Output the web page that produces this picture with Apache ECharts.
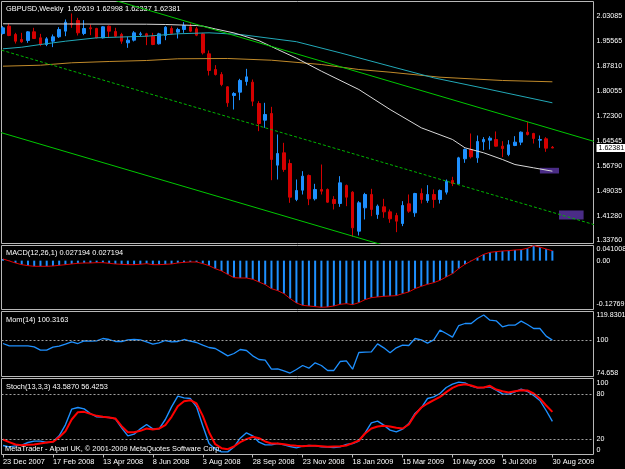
<!DOCTYPE html>
<html><head><meta charset="utf-8">
<script src="https://cdn.jsdelivr.net/npm/echarts@6/dist/echarts.min.js"></script>
<style>html,body{margin:0;padding:0;background:#000;}#c{width:625px;height:469px;}</style>
</head><body><div id="c"></div>
<script>
// ---------- data ----------
const symbolName = 'GBPUSD,Weekly';
const dateLabels = ['23 Dec 2007','17 Feb 2008','13 Apr 2008','8 Jun 2008','3 Aug 2008','28 Sep 2008','23 Nov 2008','18 Jan 2009','15 Mar 2009','10 May 2009','5 Jul 2009','30 Aug 2009'];
const dateLabelBars = [0,8,16,24,32,40,48,56,64,72,80,88];

const opens  = [1.9783,2.0009,1.9752,1.9597,1.9566,1.9834,1.9648,1.9442,1.9545,1.9680,1.9855,2.0092,2.0185,1.9783,1.9958,1.9937,1.9648,2.0009,1.9845,1.9752,1.9494,1.9576,1.9752,1.9772,1.9700,1.9463,1.9721,1.9937,1.9824,1.9906,1.9989,1.9927,1.9772,1.9153,1.8668,1.8514,1.8132,1.7864,1.7967,1.8297,1.8276,1.7616,1.7100,1.7307,1.5708,1.6089,1.5759,1.4645,1.4934,1.5388,1.4666,1.4955,1.4955,1.4645,1.4521,1.5078,1.4872,1.3665,1.4387,1.4800,1.4181,1.4418,1.4263,1.4150,1.3902,1.4511,1.4232,1.4831,1.4614,1.4800,1.4645,1.4872,1.5233,1.5130,1.5904,1.6193,1.5934,1.6430,1.6481,1.6502,1.6296,1.6038,1.6316,1.6420,1.6729,1.6688,1.6481,1.6523,1.62619];
const closes = [1.9958,1.9721,1.9545,1.9525,1.9834,1.9628,1.9442,1.9617,1.9680,1.9906,2.0133,2.0061,1.9803,1.9937,1.9927,1.9648,1.9989,1.9855,1.9700,1.9545,1.9576,1.9803,1.9772,1.9700,1.9442,1.9772,1.9978,1.9783,1.9906,2.0030,1.9855,1.9731,1.9184,1.8637,1.8514,1.8204,1.7637,1.7926,1.8328,1.8441,1.7688,1.6997,1.7276,1.5883,1.6069,1.5574,1.4717,1.4924,1.5367,1.4666,1.4955,1.4903,1.4563,1.4521,1.5161,1.4717,1.3768,1.4542,1.4800,1.4336,1.4439,1.4263,1.4047,1.3975,1.4460,1.4284,1.4831,1.4645,1.4800,1.4645,1.4924,1.5213,1.5140,1.5934,1.6193,1.5966,1.6440,1.6502,1.6543,1.6296,1.6223,1.6337,1.6420,1.6729,1.6657,1.6533,1.6502,1.6234,1.62381];
const lows   = [1.9752,1.9700,1.9473,1.9494,1.9494,1.9617,1.9391,1.9391,1.9360,1.9648,1.9700,1.9958,1.9721,1.9731,1.9731,1.9628,1.9628,1.9648,1.9669,1.9463,1.9339,1.9535,1.9700,1.9422,1.9422,1.9442,1.9576,1.9752,1.9628,1.9803,1.9824,1.9700,1.9133,1.8483,1.8483,1.8152,1.7513,1.7430,1.7719,1.8173,1.7534,1.6760,1.6863,1.5243,1.5264,1.5501,1.4542,1.4594,1.4800,1.4470,1.4614,1.4800,1.4542,1.4336,1.4418,1.4439,1.3490,1.3531,1.4026,1.4129,1.4047,1.4078,1.3923,1.3634,1.3820,1.4232,1.4109,1.4521,1.4542,1.4387,1.4521,1.4800,1.5058,1.5099,1.5780,1.5914,1.5780,1.6172,1.6193,1.6280,1.5955,1.5986,1.6296,1.6327,1.6626,1.6378,1.6244,1.6120,1.62337];
const highs  = [2.0009,2.0092,1.9803,1.9803,1.9855,1.9958,1.9772,1.9669,1.9752,1.9978,2.0216,2.0401,2.0267,2.0195,2.0061,1.9958,2.0009,2.0030,1.9958,1.9803,1.9680,1.9855,1.9834,1.9803,1.9803,1.9803,2.0009,2.0009,1.9958,2.0133,2.0092,1.9989,1.9803,1.9256,1.8803,1.8586,1.8152,1.7967,1.8380,1.8689,1.8359,1.7688,1.7637,1.7513,1.6657,1.6399,1.5883,1.5264,1.5522,1.5420,1.5130,1.5728,1.4986,1.4748,1.5367,1.5109,1.4903,1.4594,1.4851,1.4975,1.4490,1.4666,1.4336,1.4232,1.4594,1.4800,1.4851,1.4986,1.5089,1.4955,1.4955,1.5264,1.5347,1.5966,1.6223,1.6688,1.6626,1.6574,1.6605,1.6750,1.6450,1.6481,1.6605,1.6750,1.7039,1.6709,1.6626,1.6574,1.62998];

const maWhiteBars = [0,23,26,31,32,34,37,41,44,47,51,57,62,67,72,74,77,80,82,85,88];
const maWhiteVals = [2.0083,2.0070,2.0061,2.0030,2.0012,1.9925,1.9800,1.9560,1.9287,1.9020,1.8616,1.8049,1.7430,1.6864,1.6502,1.6245,1.6090,1.5883,1.5728,1.5625,1.5521];
const maCyanBars = [0,3,6,10,15,23,28,33,38,47,54,62,69,78,88];
const maCyanVals = [1.9309,1.9358,1.9442,1.9544,1.9649,1.9699,1.9773,1.9804,1.9752,1.9529,1.9185,1.8770,1.8411,1.8049,1.7638];
const maOrangeBars = [0,6,11,17,23,28,36,43,51,57,62,70,80,88];
const maOrangeVals = [1.8771,1.8801,1.8876,1.8916,1.8947,1.9000,1.9009,1.8956,1.8823,1.8668,1.8585,1.8430,1.8328,1.8288];

const trendBars = [-1, 95];
const trendUpper = [2.1884, 1.6424];
const trendMiddle = [1.93105, 1.38494];
const trendLower = [1.67541, 1.12933];

const boxBars = [[86.0, 89.06], [89.06, 93.0]];
const boxVals = [[1.5450, 1.5626], [1.4026, 1.4305]];

const priceTicks = [2.03085,1.95565,1.87810,1.80055,1.72300,1.64545,1.56790,1.49035,1.41280,1.33760];

const macd = [0.0046,-0.0009,-0.0064,-0.0110,-0.0137,-0.0155,-0.0155,-0.0155,-0.0146,-0.0128,-0.0110,-0.0091,-0.0073,-0.0064,-0.0064,-0.0055,-0.0055,-0.0073,-0.0091,-0.0100,-0.0110,-0.0110,-0.0100,-0.0082,-0.0110,-0.0110,-0.0100,-0.0091,-0.0064,-0.0046,-0.0037,-0.0037,-0.0082,-0.0137,-0.0219,-0.0283,-0.0374,-0.0466,-0.0475,-0.0475,-0.0511,-0.0584,-0.0658,-0.0767,-0.0822,-0.0904,-0.1041,-0.1160,-0.1224,-0.1242,-0.1260,-0.12769,-0.1269,-0.1242,-0.1196,-0.1178,-0.1205,-0.1151,-0.1068,-0.1014,-0.0995,-0.0977,-0.0968,-0.0959,-0.0904,-0.0858,-0.0767,-0.0703,-0.0648,-0.0603,-0.0539,-0.0447,-0.0356,-0.0219,-0.0100,-0.0009,0.0082,0.0173,0.0228,0.0247,0.0265,0.0274,0.0292,0.0301,0.0340,0.041008,0.0370,0.0320,0.027194];
const macdSignal = macd.slice(); // signal period 1 equals MACD
const mom = [97.66,95.85,95.85,95.85,95.85,95.07,92.47,92.47,94.81,95.59,97.14,98.96,97.66,99.74,99.48,99.74,101.56,100.78,99.22,99.22,100.52,100.78,100.52,98.96,97.14,98.18,100.0,98.96,99.22,100.78,99.48,98.44,96.37,94.55,93.77,90.91,88.06,89.88,92.99,92.21,88.06,85.20,84.68,77.67,77.93,76.38,74.658,77.41,80.53,78.45,82.61,80.53,76.64,76.64,83.64,84.17,77.67,90.65,90.91,91.17,97.40,94.29,90.39,94.29,96.37,96.11,101.56,100.52,97.92,100.52,108.05,105.45,102.60,111.68,113.24,113.24,117.13,119.8301,115.84,115.32,110.64,111.94,111.94,115.06,112.46,109.35,109.35,103.37,100.3163];
const stochMain = [10.92,9.12,10.47,11.37,14.99,16.79,16.79,14.99,15.89,24.01,38.91,60.13,62.39,60.59,54.27,49.75,49.30,48.85,47.04,34.85,24.01,26.27,33.50,39.37,33.50,33.50,46.14,63.30,77.74,75.49,74.58,63.30,37.56,13.63,5.96,2.34,2.34,9.12,20.86,28.08,24.01,15.44,11.82,11.82,13.63,11.82,9.57,7.76,10.02,10.92,10.47,9.12,8.66,8.21,9.12,12.28,13.63,16.79,28.08,41.62,43.88,38.46,31.69,29.43,33.04,40.72,54.27,61.94,74.58,76.84,81.35,89.48,94.0,96.71,95.80,91.29,89.03,89.48,90.38,85.87,80.90,80.45,83.61,87.22,84.06,78.65,71.87,58.33,43.5870];
const stochSignal = [19.05,15.44,12.28,11.37,11.82,12.28,13.63,14.99,15.89,22.21,30.34,46.14,56.07,56.52,53.81,51.10,49.75,48.85,47.49,37.11,28.98,28.98,30.79,33.95,32.59,33.95,38.46,49.75,64.20,70.97,72.32,67.81,51.10,28.98,12.73,7.31,5.96,9.57,15.44,19.50,22.66,20.86,16.35,13.63,13.63,12.73,11.37,10.47,10.02,10.47,10.47,10.02,9.12,9.57,10.02,10.92,14.08,17.69,27.18,33.95,36.66,37.56,36.66,34.85,33.95,39.37,52.46,62.39,67.81,72.32,76.84,83.16,89.03,92.64,94.0,92.19,89.48,89.48,91.74,86.77,84.51,82.71,84.51,85.87,85.42,81.35,74.58,65.10,56.4253];

const macdLevels = [0.041008, 0, -0.12769];
const macdLevelText = ['0.041008', '0.00', '-0.12769'];
const momLevels = [119.8301, 100, 74.658];
const momLevelText = ['119.8301', '100', '74.658'];
const stochLevels = [100, 80, 20, 0];

// ---------- styles ----------
const FS = 7.4, AFS = 7.1, FF = '"Liberation Sans", Arial, sans-serif';
const FONT = FS + 'px "Liberation Sans", Arial, sans-serif';
const BC = '#b8b8b8', TXT = '#ffffff';
const BULL = '#1e90ff', BEAR = '#d40000';
const XMIN = -0.24, XMAX = 94.586;

const pairs = (idx, vals) => idx.map((b, k) => [b, vals[k]]);
const seq = arr => arr.map((v, i) => [i, v]);
const last = closes.length - 1;
const OFF = { show: false };

function xAx(grid, show) {
  const a = { type: 'value', gridIndex: grid, min: XMIN, max: XMAX, show: !!show,
    axisLine: { show: false, onZero: false }, splitLine: OFF, splitArea: OFF, minorTick: OFF, minorSplitLine: OFF, axisTick: OFF, axisLabel: OFF };
  if (show) {
    a.position = 'bottom';
    a.axisTick = { show: true, customValues: dateLabelBars, length: 3, lineStyle: { color: BC } };
    a.axisLabel = { show: true, customValues: dateLabelBars, align: 'left', margin: 4, color: TXT, fontSize: FS, fontFamily: FF,
      formatter: v => dateLabels[dateLabelBars.indexOf(Math.round(v))] };
  }
  return a;
}
function nearest(values, v) { let k = 0, d = Infinity; values.forEach((x, j) => { if (Math.abs(x - v) < d) { d = Math.abs(x - v); k = j; } }); return k; }
function yAx(grid, min, max, values, texts, va, extraLabel) {
  return { type: 'value', gridIndex: grid, position: 'right', min, max,
    axisLine: { show: false, onZero: false }, splitLine: OFF, splitArea: OFF, minorTick: OFF, minorSplitLine: OFF,
    axisTick: OFF,
    axisLabel: Object.assign({ show: true, customValues: values, verticalAlign: va, color: TXT,
      fontSize: AFS, fontFamily: FF, margin: 3,
      formatter: v => texts[nearest(values, v)] }, extraLabel || {}) };
}

const PMIN = 1.32832, PMAX = 2.07728;
const MMIN = -0.13384, MMAX = 0.0415;
const OMIN = 71.96, OMAX = 122.59;
const SMIN = -1.27, SMAX = 101.67;

// price axis: regular ticks plus the current-price box (rich style)
const priceAxisValues = priceTicks.concat([closes[last]]);
const priceAxisTexts = priceTicks.map(v => v.toFixed(5)).concat(['{box|' + closes[last].toFixed(5) + '}']);

const gridBase = { left: 1.5, width: 592, show: true, borderColor: BC, borderWidth: 1, backgroundColor: 'transparent',
  containLabel: false, outerBoundsMode: 'none' };

const option = {
  backgroundColor: '#000000',
  animation: false,
  grid: [
    Object.assign({ top: 1.5, height: 242 }, gridBase),
    Object.assign({ top: 245.5, height: 64 }, gridBase),
    Object.assign({ top: 311.5, height: 65 }, gridBase),
    Object.assign({ top: 378.5, height: 76 }, gridBase)
  ],
  xAxis: [xAx(0), xAx(1), xAx(2), xAx(3, true)],
  yAxis: [
    yAx(0, PMIN, PMAX, priceAxisValues, priceAxisTexts, 'middle',
      { rich: { box: { backgroundColor: '#ffffff', color: '#000000', padding: [1, 2, 0, 2], fontSize: AFS, fontFamily: FF } } }),
    yAx(1, MMIN, MMAX, [macdLevels[1]], [macdLevelText[1]], 'middle'),
    yAx(1, MMIN, MMAX, [macdLevels[0]], [macdLevelText[0]], 'top'),
    yAx(1, MMIN, MMAX, [macdLevels[2]], [macdLevelText[2]], 'bottom'),
    yAx(2, OMIN, OMAX, momLevels, momLevelText, 'middle'),
    yAx(3, SMIN, SMAX, [80, 20], ['80', '20'], 'middle'),
    yAx(3, SMIN, SMAX, [stochLevels[0]], ['100'], 'top'),
    yAx(3, SMIN, SMAX, [stochLevels[3]], ['0'], 'bottom')
  ],
  graphic: [
    { type: 'text', x: 6, y: 8.5, style: { text: symbolName, fill: TXT, font: FONT, verticalAlign: 'middle' } },
    { type: 'text', x: 67.5, y: 8.5, style: { text: [opens[last], highs[last], lows[last], closes[last]].map(v => v.toFixed(5)).join(' '), fill: TXT, font: FONT, verticalAlign: 'middle' } },
    { type: 'text', x: 6, y: 253, style: { text: 'MACD(12,26,1) ' + macd[last].toFixed(6) + ' ' + macdSignal[last].toFixed(6), fill: TXT, font: FONT, verticalAlign: 'middle' } },
    { type: 'text', x: 6, y: 320, style: { text: 'Mom(14) ' + mom[last].toFixed(4), fill: TXT, font: FONT, verticalAlign: 'middle' } },
    { type: 'text', x: 6, y: 387.3, style: { text: 'Stoch(13,3,3) ' + stochMain[last].toFixed(4) + ' ' + stochSignal[last].toFixed(4), fill: TXT, font: FONT, verticalAlign: 'middle' } },
    { type: 'text', x: 5, y: 449, z: 100, style: { text: 'MetaTrader - Alpari UK, \u00a9 2001-2009 MetaQuotes Software Corp.', fill: TXT, font: FONT, verticalAlign: 'middle' } }
  ],
  series: [
    { type: 'line', xAxisIndex: 0, yAxisIndex: 0, data: pairs(maOrangeBars, maOrangeVals), symbol: 'none', silent: true,
      lineStyle: { color: '#c08a2a', width: 1 },
      markArea: { silent: true, itemStyle: { color: '#4a2c86' },
        data: boxBars.map((b, k) => [{ coord: [b[0], boxVals[k][1]] }, { coord: [b[1], boxVals[k][0]] }]) } },
    { type: 'candlestick', xAxisIndex: 0, yAxisIndex: 0, barWidth: 3,
      data: opens.map((o, i) => [i, o, closes[i], lows[i], highs[i]]),
      encode: { x: 0, y: [1, 2, 3, 4] },
      itemStyle: { color: BULL, color0: BEAR, borderColor: BULL, borderColor0: BEAR, borderWidth: 1 } },
    { type: 'line', xAxisIndex: 0, yAxisIndex: 0, data: pairs(maCyanBars, maCyanVals), symbol: 'none', lineStyle: { color: '#22a9b8', width: 1 } },
    { type: 'line', xAxisIndex: 0, yAxisIndex: 0, data: pairs(maWhiteBars, maWhiteVals), symbol: 'none', lineStyle: { color: '#d8d8d8', width: 1 } },
    { type: 'line', xAxisIndex: 0, yAxisIndex: 0, data: pairs(trendBars, trendUpper), symbol: 'none', clip: true, lineStyle: { color: '#00c800', width: 1 } },
    { type: 'line', xAxisIndex: 0, yAxisIndex: 0, data: pairs(trendBars, trendMiddle), symbol: 'none', clip: true, lineStyle: { color: '#00b400', width: 1, type: [3, 2] } },
    { type: 'line', xAxisIndex: 0, yAxisIndex: 0, data: pairs(trendBars, trendLower), symbol: 'none', clip: true, lineStyle: { color: '#00c800', width: 1 } },

    { type: 'bar', xAxisIndex: 1, yAxisIndex: 1, data: seq(macd), barWidth: 2, itemStyle: { color: BULL } },
    { type: 'line', xAxisIndex: 1, yAxisIndex: 1, data: seq(macdSignal), symbol: 'none', lineStyle: { color: '#e00000', width: 1 } },

    { type: 'line', xAxisIndex: 2, yAxisIndex: 4, data: seq(mom), symbol: 'none', lineStyle: { color: BULL, width: 1.3 },
      markLine: { silent: true, symbol: 'none', label: { show: false }, lineStyle: { color: '#a0a0a0', width: 1, type: [2, 2] }, data: [{ yAxis: momLevels[1] }] } },

    { type: 'line', xAxisIndex: 3, yAxisIndex: 5, data: seq(stochMain), symbol: 'none', lineStyle: { color: BULL, width: 1.4 },
      markLine: { silent: true, symbol: 'none', label: { show: false }, lineStyle: { color: '#a0a0a0', width: 1, type: [2, 2] }, data: [{ yAxis: stochLevels[1] }, { yAxis: stochLevels[2] }] } },
    { type: 'line', xAxisIndex: 3, yAxisIndex: 5, data: seq(stochSignal), symbol: 'none', lineStyle: { color: '#ff0000', width: 2 } }
  ]
};
const chart = echarts.init(document.getElementById('c'), null, { renderer: 'canvas' });
chart.setOption(option);
</script></body></html>
